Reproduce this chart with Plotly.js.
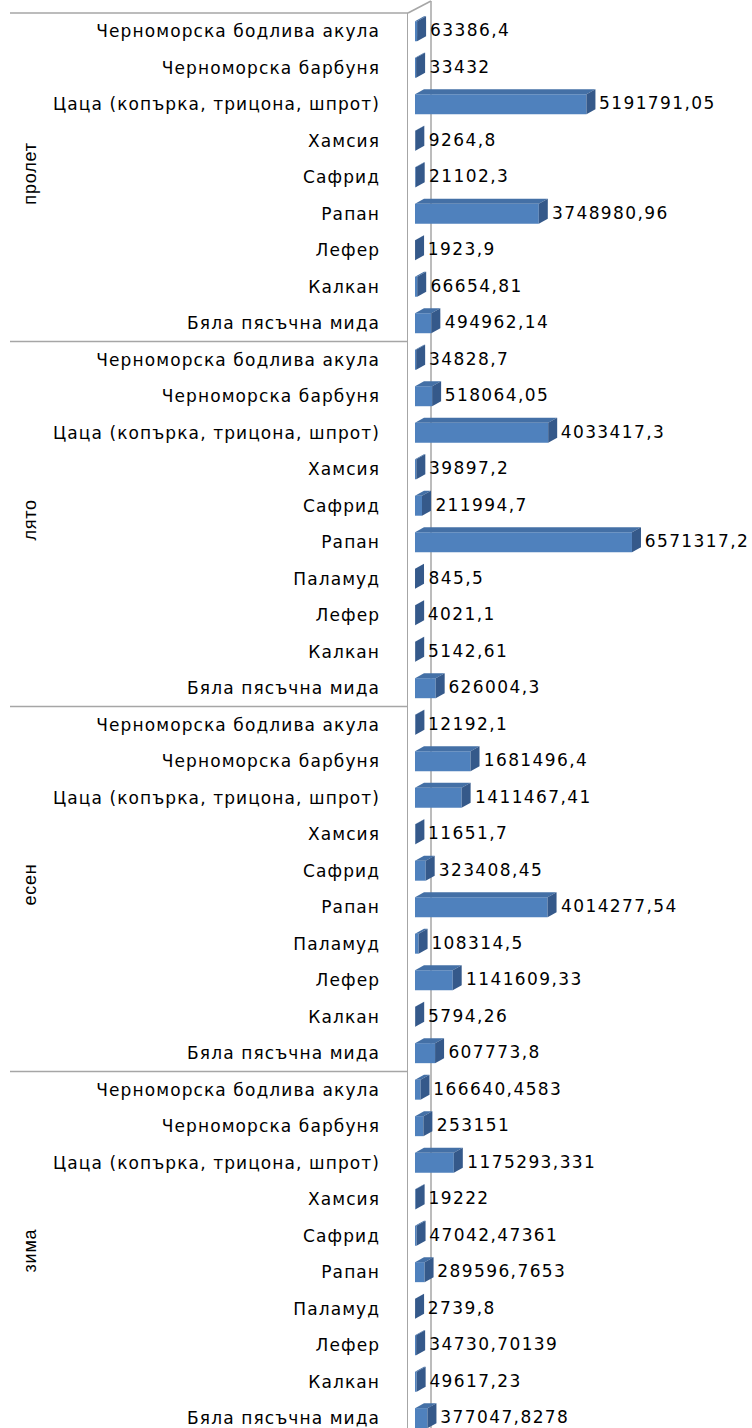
<!DOCTYPE html>
<html><head><meta charset="utf-8">
<script src="https://cdn.plot.ly/plotly-3.0.1.min.js"></script>
<style>
html,body{margin:0;padding:0;background:#fff}
#chart .ytick text{letter-spacing:1.1px}
#chart .annotation-text.val{letter-spacing:1.4px}
#chart .annotation-text.grp{letter-spacing:0.8px}
</style>
</head><body><div id="chart" style="width:752px;height:1428px"></div>
<script>
const seasons = ['пролет', 'лято', 'есен', 'зима'];
const springCats = ['Черноморска бодлива акула', 'Черноморска барбуня', 'Цаца (копърка, трицона, шпрот)', 'Хамсия', 'Сафрид', 'Рапан', 'Лефер', 'Калкан', 'Бяла пясъчна мида'];
const springVals = [63386.4, 33432, 5191791.05, 9264.8, 21102.3, 3748980.96, 1923.9, 66654.81, 494962.14];
const summerCats = ['Черноморска бодлива акула', 'Черноморска барбуня', 'Цаца (копърка, трицона, шпрот)', 'Хамсия', 'Сафрид', 'Рапан', 'Паламуд', 'Лефер', 'Калкан', 'Бяла пясъчна мида'];
const summerVals = [34828.7, 518064.05, 4033417.3, 39897.2, 211994.7, 6571317.2, 845.5, 4021.1, 5142.61, 626004.3];
const autumnCats = ['Черноморска бодлива акула', 'Черноморска барбуня', 'Цаца (копърка, трицона, шпрот)', 'Хамсия', 'Сафрид', 'Рапан', 'Паламуд', 'Лефер', 'Калкан', 'Бяла пясъчна мида'];
const autumnVals = [12192.1, 1681496.4, 1411467.41, 11651.7, 323408.45, 4014277.54, 108314.5, 1141609.33, 5794.26, 607773.8];
const winterCats = ['Черноморска бодлива акула', 'Черноморска барбуня', 'Цаца (копърка, трицона, шпрот)', 'Хамсия', 'Сафрид', 'Рапан', 'Паламуд', 'Лефер', 'Калкан', 'Бяла пясъчна мида'];
const winterVals = [166640.4583, 253151, 1175293.331, 19222, 47042.47361, 289596.7653, 2739.8, 34730.70139, 49617.23, 377047.8278];

const groupCats = [springCats, summerCats, autumnCats, winterCats];
const groupVals = [springVals, summerVals, autumnVals, winterVals];

const cats = [], vals = [], pos = [], groupBounds = [];
let k = 0;
groupCats.forEach((gc, g) => {
  const start = k;
  gc.forEach((c, j) => { cats.push(c); vals.push(groupVals[g][j]); pos.push(k); k++; });
  groupBounds.push([start, k - 1]);
});

const W = 752, H = 1428;
const mL = 408, mR = 0, mT = 13, mB = 0;
const plotW = W - mL - mR;
const xRange = [-212000, 10206000];
const pxPerUnit = plotW / (xRange[1] - xRange[0]);
const dx = 9 / pxPerUnit;
const yRange = [38.27, -0.5];
const VAL_LS = 1.4;

const FRONT = '#4f81bd', TOP = '#4470a6', SIDE = '#35598a';
const shapes = [];
shapes.push({type: 'line', xref: 'paper', yref: 'paper', x0: 23 / plotW, x1: 23 / plotW, y0: 0, y1: 1 + 12 / (H - mT - mB), line: {color: '#a6a6a6', width: 1.5}, layer: 'below'});
shapes.push({type: 'line', xref: 'paper', yref: 'paper', x0: 0, x1: 23 / plotW, y0: 1, y1: 1 + 12 / (H - mT - mB), line: {color: '#a6a6a6', width: 1.5}, layer: 'below'});
shapes.push({type: 'line', xref: 'paper', yref: 'paper', x0: (10 - mL) / plotW, x1: 0, y0: 1, y1: 1, line: {color: '#a6a6a6', width: 1.5}});
for (let g = 0; g < groupBounds.length - 1; g++) {
  const yb = groupBounds[g][1] + 0.5;
  shapes.push({type: 'line', xref: 'paper', yref: 'y', x0: (10 - mL) / plotW, x1: 0, y0: yb, y1: yb, line: {color: '#a6a6a6', width: 1.5}});
}
vals.forEach((v, i) => {
  shapes.push({type: 'path', xref: 'x', yref: 'y', ysizemode: 'pixel', yanchor: pos[i],
    path: `M0,10 L${v},10 L${v + dx},15 L${dx},15 Z`, fillcolor: TOP, line: {width: 0}, layer: 'above'});
  shapes.push({type: 'path', xref: 'x', yref: 'y', ysizemode: 'pixel', yanchor: pos[i],
    path: `M${v},-10 L${v},10 L${v + dx},15 L${v + dx},-5 Z`, fillcolor: SIDE, line: {width: 0}, layer: 'above'});
});

const annotations = [];
vals.forEach((v, i) => {
  const txt = String(v).replace('.', ',');
  annotations.push({x: v, y: pos[i], xref: 'x', yref: 'y', text: txt, showarrow: false,
    xanchor: 'left', yanchor: 'middle', xshift: 11 + VAL_LS * txt.length / 2, yshift: 1,
    font: {family: 'DejaVu Sans', size: 17, color: '#000'}});
});
seasons.forEach((s, g) => {
  const mid = (groupBounds[g][0] + groupBounds[g][1]) / 2;
  annotations.push({x: (30 - mL) / plotW, y: mid, xref: 'paper', yref: 'y', text: s, textangle: -90, showarrow: false,
    xanchor: 'center', yanchor: 'middle', yshift: 4, font: {family: 'Liberation Sans Narrow, Liberation Sans', size: 18, color: '#000'}});
});

const trace = {
  type: 'bar', orientation: 'h', x: vals, y: pos, width: 0.548,
  marker: {color: FRONT, line: {width: 0}}, hoverinfo: 'skip'
};

const layout = {
  width: W, height: H,
  margin: {l: mL, r: mR, t: mT, b: mB},
  paper_bgcolor: '#fff', plot_bgcolor: 'rgba(0,0,0,0)',
  showlegend: false,
  xaxis: {range: xRange, showgrid: false, zeroline: false, showticklabels: false, showline: false, fixedrange: true},
  yaxis: {range: yRange, tickvals: pos, ticktext: cats, showgrid: false, zeroline: false,
    showline: true, linecolor: '#a6a6a6', linewidth: 1.5, ticks: '', ticklabelstandoff: 23,
    ticklabeloverflow: 'allow', tickfont: {family: 'DejaVu Sans', size: 17, color: '#000'}, fixedrange: true},
  shapes: shapes,
  annotations: annotations
};
Plotly.newPlot('chart', [trace], layout, {displayModeBar: false, staticPlot: true}).then(() => {
  const nodes = document.querySelectorAll('#chart .annotation-text');
  nodes.forEach((n, i) => { n.classList.add(i < vals.length ? 'val' : 'grp'); });
});
</script></body></html>
